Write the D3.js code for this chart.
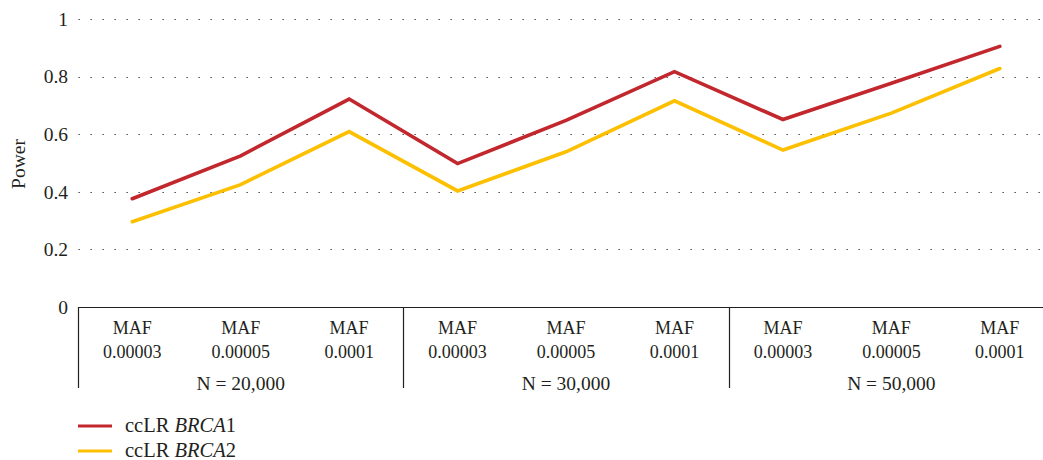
<!DOCTYPE html>
<html>
<head>
<meta charset="utf-8">
<script src="https://cdn.jsdelivr.net/npm/d3@7"></script>
<style>
  body { margin: 0; background: #fff; }
  svg text { font-family: "Liberation Serif", "DejaVu Serif", serif; fill: #231f20; }
</style>
</head>
<body>
<div id="chart"></div>
<script>
// data
var groups = ["N = 20,000", "N = 30,000", "N = 50,000"];
var mafs = ["0.00003", "0.00005", "0.0001"];
var brca1 = [0.376, 0.525, 0.722, 0.498, 0.648, 0.817, 0.651, 0.777, 0.905];
var brca2 = [0.296, 0.425, 0.609, 0.403, 0.539, 0.716, 0.545, 0.673, 0.828];
var yTicks = [0, 0.2, 0.4, 0.6, 0.8, 1];
var seriesNames = ["BRCA1", "BRCA2"];
var colors = ["#c1272d", "#fcc000"];

var W = 1043, H = 460;
var margin = {left: 78, top: 19};
var band = 108.45;
var plotH = 288;

var cats = [];
groups.forEach(function(g, gi) {
  mafs.forEach(function(m) { cats.push(gi + "|" + m); });
});

var svg = d3.select("#chart").append("svg")
  .attr("width", W).attr("height", H);

var x = d3.scaleBand().domain(cats).range([margin.left, margin.left + band * cats.length]);
var y = d3.scaleLinear().domain([0, 1]).range([margin.top + plotH, margin.top]);
var y0 = y(0);

// dotted gridlines
svg.append("g").selectAll("line")
  .data(yTicks.filter(function(d) { return d > 0; }))
  .enter().append("line")
  .attr("x1", margin.left + 0.5).attr("x2", W)
  .attr("y1", function(d) { return Math.round(y(d)) + 0.5; })
  .attr("y2", function(d) { return Math.round(y(d)) + 0.5; })
  .attr("stroke", "#231f20")
  .attr("stroke-width", 1.2)
  .attr("stroke-dasharray", "1.2,10.8");

// y axis labels
var yAxis = d3.axisLeft(y).tickValues(yTicks).tickSize(0).tickPadding(10)
  .tickFormat(function(d) { return d === 0 ? "0" : d3.format("")(d); });
var ya = svg.append("g").attr("transform", "translate(" + margin.left + ",0)").call(yAxis);
ya.select(".domain").remove();
ya.selectAll("text").style("font-size", "19.5px").attr("fill", "#231f20");

// axis title
svg.append("text")
  .attr("transform", "translate(25," + (margin.top + plotH / 2 + 1) + ") rotate(-90)")
  .attr("text-anchor", "middle")
  .style("font-size", "19.5px")
  .text("Power");

// x axis line and group separators
svg.append("line")
  .attr("x1", margin.left).attr("x2", W)
  .attr("y1", y0 + 0.5).attr("y2", y0 + 0.5)
  .attr("stroke", "#231f20").attr("stroke-width", 1.2);

var seps = [0, 3, 6];
svg.append("g").selectAll("line")
  .data(seps).enter().append("line")
  .attr("x1", function(i) { return Math.round(x(cats[i])) + 0.5; })
  .attr("x2", function(i) { return Math.round(x(cats[i])) + 0.5; })
  .attr("y1", y0).attr("y2", y0 + 81)
  .attr("stroke", "#231f20").attr("stroke-width", 1.2);

// category labels
var lab = svg.append("g").selectAll("text")
  .data(cats).enter().append("text")
  .attr("text-anchor", "middle")
  .style("font-size", "18px");
lab.append("tspan")
  .attr("x", function(d) { return x(d) + band / 2; })
  .attr("y", y0 + 27)
  .text("MAF");
lab.append("tspan")
  .attr("x", function(d) { return x(d) + band / 2; })
  .attr("y", y0 + 51)
  .text(function(d) { return d.split("|")[1]; });

svg.append("g").selectAll("text")
  .data(groups).enter().append("text")
  .attr("text-anchor", "middle")
  .attr("x", function(d, i) { return x(cats[i * 3 + 1]) + band / 2; })
  .attr("y", y0 + 83)
  .style("font-size", "19.5px")
  .text(function(d) { return d; });

// lines
var line = d3.line()
  .x(function(d, i) { return x(cats[i]) + band / 2; })
  .y(function(d) { return y(d); });

[brca1, brca2].forEach(function(s, i) {
  svg.append("path")
    .datum(s)
    .attr("d", line)
    .attr("fill", "none")
    .attr("stroke", colors[i])
    .attr("stroke-width", 3.6)
    .attr("stroke-linecap", "round")
    .attr("stroke-linejoin", "miter");
});

// legend
var leg = svg.append("g").selectAll("g")
  .data(seriesNames).enter().append("g")
  .attr("transform", function(d, i) { return "translate(78," + (426 + i * 25) + ")"; });
leg.append("line")
  .attr("x1", 0).attr("x2", 34)
  .attr("stroke", function(d, i) { return colors[i]; })
  .attr("stroke-width", 3.2);
var lt = leg.append("text")
  .attr("x", 47).attr("y", 6)
  .style("font-size", "20.5px");
lt.append("tspan").text("ccLR ");
lt.append("tspan").style("font-style", "italic").text(function(d) { return d.slice(0, 4); });
lt.append("tspan").text(function(d) { return d.slice(4); });
</script>
</body>
</html>
